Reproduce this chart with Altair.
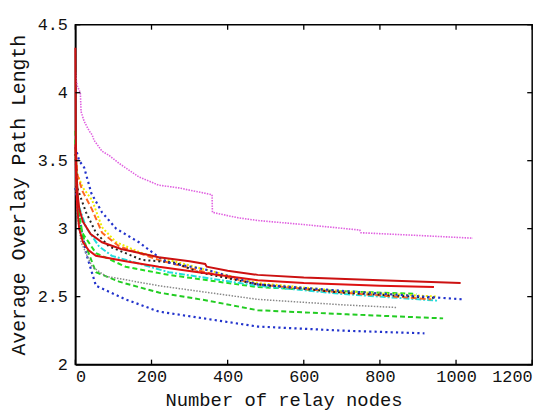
import altair as alt
import pandas as pd

# ---- data ----
magenta_x = [0, 2, 5, 13, 15, 23, 36, 44, 49, 70, 88, 115, 167, 219, 271, 341, 359, 360, 427, 479, 600, 747, 750, 900, 1044]
magenta_y = [4.15, 4.10, 4.05, 4.00, 3.86, 3.79, 3.72, 3.69, 3.65, 3.57, 3.54, 3.48, 3.38, 3.32, 3.30, 3.26, 3.25, 3.12, 3.08, 3.06, 3.03, 2.99, 2.97, 2.95, 2.93]

redA_x = [0, 1, 3, 6, 10, 20, 40, 70, 120, 219, 300, 341, 345, 400, 479, 600, 800, 1012]
redA_y = [4.33, 3.70, 3.40, 3.25, 3.15, 3.05, 2.96, 2.90, 2.85, 2.79, 2.76, 2.74, 2.72, 2.69, 2.66, 2.64, 2.62, 2.60]

redB_x = [0, 2, 5, 10, 20, 35, 54, 132, 219, 323, 479, 600, 800, 942]
redB_y = [3.62, 3.35, 3.15, 3.00, 2.90, 2.84, 2.80, 2.76, 2.72, 2.68, 2.62, 2.60, 2.58, 2.57]

blueA_x = [0, 5, 10, 23, 42, 70, 107, 167, 219, 245, 341, 479, 713, 1018]
blueA_y = [3.60, 3.55, 3.50, 3.45, 3.26, 3.12, 3.00, 2.90, 2.79, 2.75, 2.70, 2.59, 2.54, 2.48]

blueB_x = [0, 5, 15, 28, 54, 132, 219, 479, 700, 917]
blueB_y = [3.30, 3.19, 3.01, 2.82, 2.58, 2.48, 2.39, 2.28, 2.25, 2.23]

greenA_x = [0, 3, 8, 18, 54, 132, 245, 479, 700, 896]
greenA_y = [3.72, 3.40, 3.15, 2.97, 2.82, 2.72, 2.66, 2.57, 2.54, 2.52]

greenB_x = [0, 3, 10, 28, 54, 115, 219, 349, 479, 713, 966]
greenB_y = [3.65, 3.30, 3.05, 2.87, 2.68, 2.61, 2.53, 2.47, 2.40, 2.37, 2.34]

gray_x = [0, 5, 15, 44, 80, 219, 479, 700, 844]
gray_y = [3.50, 3.10, 2.90, 2.72, 2.65, 2.58, 2.48, 2.44, 2.42]

orange_x = [0, 5, 18, 44, 70, 115, 219, 341, 479, 700, 935]
orange_y = [3.60, 3.40, 3.28, 3.14, 2.97, 2.87, 2.77, 2.68, 2.59, 2.53, 2.48]

yellow_x = [0, 5, 20, 44, 70, 107, 175, 479, 700, 950]
yellow_y = [3.55, 3.40, 3.30, 3.21, 3.01, 2.90, 2.82, 2.60, 2.54, 2.50]

black_x = [0, 5, 28, 54, 88, 175, 262, 323, 479, 700, 948]
black_y = [3.55, 3.30, 3.12, 2.97, 2.87, 2.77, 2.75, 2.68, 2.59, 2.53, 2.49]

cyan_x = [0, 5, 28, 62, 96, 245, 479, 700, 953]
cyan_y = [3.60, 3.20, 3.01, 2.87, 2.80, 2.68, 2.58, 2.52, 2.47]

x_ticks = [0, 200, 400, 600, 800, 1000, 1200]
y_ticks = [2, 2.5, 3, 3.5, 4, 4.5]

W, H = 461, 343
FONT = "Liberation Mono"

xs = alt.Scale(domain=[0, 1200], nice=False, zero=False)
ys = alt.Scale(domain=[2, 4.5], nice=False, zero=False)

series = [
    (magenta_x, magenta_y, "#e060e0", [1.5, 1.2], 1.6),
    (blueB_x, blueB_y, "#2233cc", [2.2, 3.2], 2.2),
    (greenB_x, greenB_y, "#22cc22", [5, 3], 2.0),
    (gray_x, gray_y, "#888888", [1.5, 1.5], 1.5),
    (greenA_x, greenA_y, "#22dd22", [5, 3], 2.0),
    (cyan_x, cyan_y, "#22dddd", [6, 2, 2, 2], 2.0),
    (yellow_x, yellow_y, "#eeee00", [2, 2], 2.0),
    (orange_x, orange_y, "#ff6622", [6, 3], 2.0),
    (black_x, black_y, "#222222", [2, 3], 2.0),
    (blueA_x, blueA_y, "#2233cc", [2.2, 3.2], 2.2),
    (redB_x, redB_y, "#dd1111", None, 2.0),
    (redA_x, redA_y, "#cc1111", None, 2.0),
]

layers = []
first = True
for sx, sy, col, dash, sw in series:
    df = pd.DataFrame({"x": sx, "y": sy})
    kw = dict(color=col, strokeWidth=sw)
    if dash is not None:
        kw["strokeDash"] = dash
    if first:
        xenc = alt.X("x:Q", scale=xs, axis=alt.Axis(
            values=x_ticks, format="d", title="Number of relay nodes",
            ticks=False, grid=False, labelPadding=4, titlePadding=6,
            titleX=210, titleAnchor=None))
        yenc = alt.Y("y:Q", scale=ys, axis=alt.Axis(
            values=y_ticks, format="~g", title="Average Overlay Path Length",
            ticks=False, grid=False, labelPadding=8, titlePadding=9,
            titleFontSize=20))
        first = False
    else:
        xenc = alt.X("x:Q", scale=xs)
        yenc = alt.Y("y:Q", scale=ys)
    layers.append(alt.Chart(df).mark_line(**kw).encode(x=xenc, y=yenc))

xt = pd.DataFrame({"v": x_ticks})
yt = pd.DataFrame({"v": y_ticks})
tick_style = dict(color="black", strokeWidth=1.3)
layers.append(alt.Chart(xt).mark_rule(**tick_style).encode(
    x=alt.X("v:Q", scale=xs), y=alt.value(H), y2=alt.value(H - 5)))
layers.append(alt.Chart(xt).mark_rule(**tick_style).encode(
    x=alt.X("v:Q", scale=xs), y=alt.value(0), y2=alt.value(5)))
layers.append(alt.Chart(yt).mark_rule(**tick_style).encode(
    y=alt.Y("v:Q", scale=ys), x=alt.value(0), x2=alt.value(5)))
layers.append(alt.Chart(yt).mark_rule(**tick_style).encode(
    y=alt.Y("v:Q", scale=ys), x=alt.value(W), x2=alt.value(W - 5)))

chart = alt.layer(*layers).properties(
    width=W, height=H,
    autosize=alt.AutoSizeParams(type="none"),
    padding={"left": 68, "top": 15, "right": 20, "bottom": 52},
    background="white",
).configure_view(
    stroke="black", strokeWidth=1.5
).configure_axis(
    labelFont=FONT, titleFont=FONT, labelFontSize=17, titleFontSize=19,
    labelColor="#111111", titleColor="#111111", titleFontWeight="normal",
    domainColor="black", domainWidth=1.5,
)

chart.save("out.html", embed_options={"renderer": "svg", "actions": False})
